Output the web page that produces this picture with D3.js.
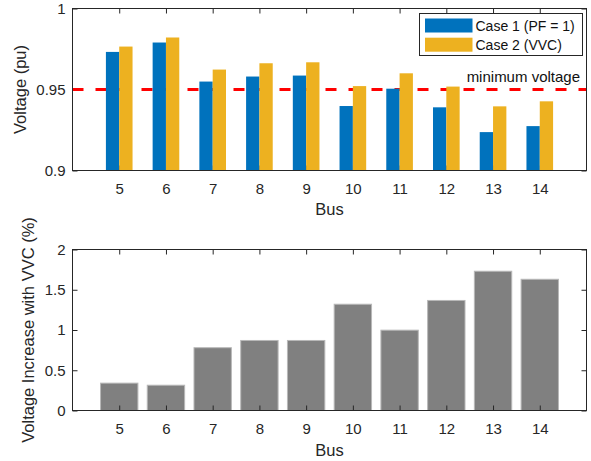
<!DOCTYPE html>
<html>
<head>
<meta charset="utf-8">
<script src="https://cdn.jsdelivr.net/npm/d3@7"></script>
<style>
  html, body { margin: 0; padding: 0; background: #fff; }
  svg { display: block; font-family: "Liberation Sans", Arial, Helvetica, sans-serif; }
</style>
</head>
<body>
<svg id="chart" width="591" height="461"></svg>
<script>
// ---- data ----
const buses = [5, 6, 7, 8, 9, 10, 11, 12, 13, 14];
const case1 = [0.9732, 0.9790, 0.9549, 0.9580, 0.9586, 0.9398, 0.9505, 0.9390, 0.9237, 0.9274];
const case2 = [0.9765, 0.9821, 0.9623, 0.9662, 0.9668, 0.9521, 0.9600, 0.9518, 0.9396, 0.9427];
const increase = [0.34, 0.314, 0.78, 0.87, 0.87, 1.32, 0.998, 1.367, 1.73, 1.63];
const seriesNames = ["Case 1 (PF = 1)", "Case 2 (VVC)"];
const minVoltage = 0.95;
const topTicks = [0.9, 0.95, 1];
const bottomTicks = [0, 0.5, 1, 1.5, 2];

// ---- style ----
const axisColor = "#262626";
const blue = "#0072BD", yellow = "#EDB120", gray = "#808080", red = "#FF0000";

const svg = d3.select("#chart");
const L = 72.5, R = 586.5;
const x = d3.scaleLinear().domain([4, 15]).range([L, R]);
const step = x(5) - x(4);

function styleAxis(g) {
  g.select(".domain").remove();
  g.selectAll(".tick line").attr("stroke", axisColor);
  g.selectAll(".tick text").attr("fill", axisColor).attr("font-size", 15);
}

// ================= TOP PLOT =================
const yT = d3.scaleLinear().domain([0.9, 1]).range([170.5, 8.5]);
const topG = svg.append("g");

topG.append("g").attr("transform", `translate(0,${yT(0.9)})`)
  .call(d3.axisBottom(x).tickValues(buses).tickSize(-5).tickPadding(12.6).tickFormat(d3.format("d")))
  .call(styleAxis);
topG.append("g").attr("transform", `translate(0,${yT(1)})`)
  .call(d3.axisTop(x).tickValues(buses).tickSize(-5).tickFormat(""))
  .call(styleAxis);
topG.append("g").attr("transform", `translate(${L},0)`)
  .call(d3.axisLeft(yT).tickValues(topTicks).tickSize(-5).tickPadding(7).tickFormat(d => String(d)))
  .call(styleAxis);
topG.append("g").attr("transform", `translate(${R},0)`)
  .call(d3.axisRight(yT).tickValues(topTicks).tickSize(-5).tickFormat(""))
  .call(styleAxis);

topG.append("line")
  .attr("x1", L).attr("x2", R)
  .attr("y1", yT(minVoltage)).attr("y2", yT(minVoltage))
  .attr("stroke", red).attr("stroke-width", 3).attr("stroke-dasharray", "11,12");

const bw = step * 0.285;
topG.append("g").selectAll("rect").data(buses).join("rect")
  .attr("x", (d) => x(d) - bw)
  .attr("width", bw)
  .attr("y", (d, i) => yT(case1[i]))
  .attr("height", (d, i) => yT(0.9) - yT(case1[i]))
  .attr("fill", blue);
topG.append("g").selectAll("rect").data(buses).join("rect")
  .attr("x", (d) => x(d))
  .attr("width", bw)
  .attr("y", (d, i) => yT(case2[i]))
  .attr("height", (d, i) => yT(0.9) - yT(case2[i]))
  .attr("fill", yellow);

topG.append("rect").attr("x", L).attr("y", yT(1)).attr("width", R - L).attr("height", yT(0.9) - yT(1))
  .attr("fill", "none").attr("stroke", axisColor).attr("stroke-width", 1);

topG.append("text").attr("x", 580).attr("y", 81.5).attr("text-anchor", "end")
  .attr("font-size", 15).attr("fill", "#111").text("minimum voltage");

const lg = topG.append("g");
lg.append("rect").attr("x", 419.5).attr("y", 13.5).attr("width", 163).attr("height", 42)
  .attr("fill", "#fff").attr("stroke", axisColor).attr("stroke-width", 1);
[blue, yellow].forEach((c, i) => {
  lg.append("rect").attr("x", 425).attr("y", 18.5 + i * 19.2).attr("width", 47.5).attr("height", 14)
    .attr("fill", c);
  lg.append("text").attr("x", 475.5).attr("y", 30.5 + i * 19.2)
    .attr("font-size", 14).attr("fill", "#111").text(seriesNames[i]);
});

topG.append("text").attr("x", (L + R) / 2).attr("y", 215).attr("text-anchor", "middle")
  .attr("font-size", 16.5).attr("fill", axisColor).text("Bus");
topG.append("text").attr("transform", `translate(26,${(yT(0.9) + yT(1)) / 2}) rotate(-90)`)
  .attr("text-anchor", "middle").attr("font-size", 16.5).attr("fill", axisColor).text("Voltage (pu)");

// ================= BOTTOM PLOT =================
const yB = d3.scaleLinear().domain([0, 2]).range([410.5, 249.5]);
const botG = svg.append("g");
const gw = step * 0.8;

botG.append("g").selectAll("rect").data(buses).join("rect")
  .attr("x", d => x(d) - gw / 2)
  .attr("width", gw)
  .attr("y", (d, i) => yB(increase[i]))
  .attr("height", (d, i) => yB(0) - yB(increase[i]))
  .attr("fill", gray).attr("stroke", "#b8b8b8").attr("stroke-width", 1);

botG.append("g").attr("transform", `translate(0,${yB(0)})`)
  .call(d3.axisBottom(x).tickValues(buses).tickSize(-5).tickPadding(12.6).tickFormat(d3.format("d")))
  .call(styleAxis);
botG.append("g").attr("transform", `translate(0,${yB(2)})`)
  .call(d3.axisTop(x).tickValues(buses).tickSize(-5).tickFormat(""))
  .call(styleAxis);
botG.append("g").attr("transform", `translate(${L},0)`)
  .call(d3.axisLeft(yB).tickValues(bottomTicks).tickSize(-5).tickPadding(7).tickFormat(d => String(d)))
  .call(styleAxis);
botG.append("g").attr("transform", `translate(${R},0)`)
  .call(d3.axisRight(yB).tickValues(bottomTicks).tickSize(-5).tickFormat(""))
  .call(styleAxis);

botG.append("rect").attr("x", L).attr("y", yB(2)).attr("width", R - L).attr("height", yB(0) - yB(2))
  .attr("fill", "none").attr("stroke", axisColor).attr("stroke-width", 1);

botG.append("text").attr("x", (L + R) / 2).attr("y", 455.5).attr("text-anchor", "middle")
  .attr("font-size", 16.5).attr("fill", axisColor).text("Bus");
botG.append("text").attr("transform", `translate(33.5,${(yB(0) + yB(2)) / 2}) rotate(-90)`)
  .attr("text-anchor", "middle").attr("font-size", 16.5).attr("fill", axisColor).text("Voltage Increase with VVC (%)");
</script>
</body>
</html>
